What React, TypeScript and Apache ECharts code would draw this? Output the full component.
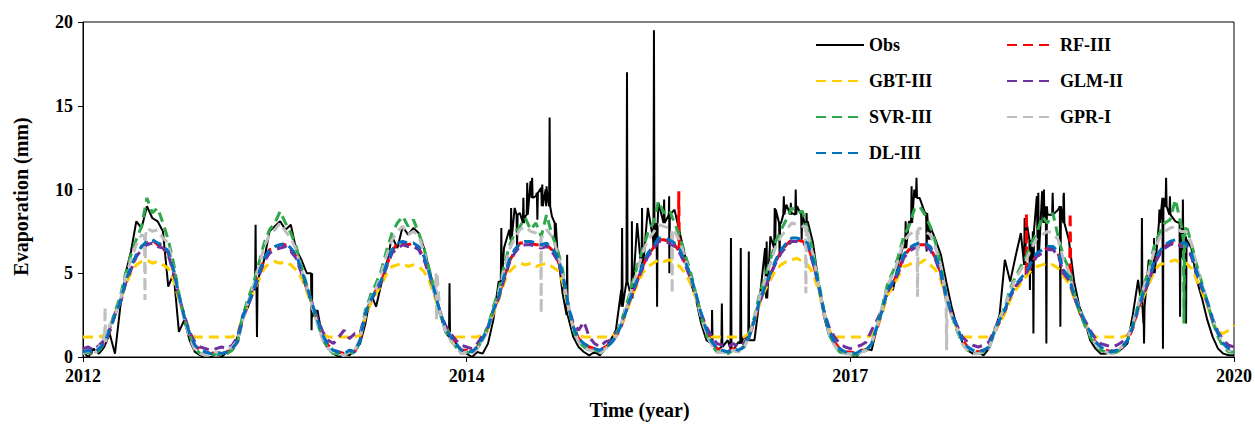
import React, { useEffect, useRef } from 'react';
import * as echarts from 'echarts';

// x axis: days counted from 2012-01-01, 24 samples per year (2012..2020)
const DAYS_TOTAL = 3288;
const SAMPLES = 216;
const xTickLabels = ['2012', '2014', '2017', '2020'];
const yTickValues = [0, 5, 10, 15, 20];

const seriesNames = ['Obs', 'RF-III', 'GBT-III', 'GLM-II', 'SVR-III', 'GPR-I', 'DL-III'];

const obs = [
  0.3,0.0,0.5,0.2,0.6,1.4,0.2,3.0,5.0,6.3,8.1,7.7,9.0,8.3,8.1,7.5,4.2,5.0,1.5,2.2,1.0,0.3,0.1,0.0,
  0.0,0.2,0.0,0.3,0.5,1.2,2.5,3.0,4.2,4.8,5.8,7.5,7.8,8.1,7.6,7.9,6.4,5.8,5.0,2.4,2.8,1.0,0.5,0.2,
  0.0,0.2,0.1,0.4,0.8,2.0,3.8,3.0,4.4,5.6,7.2,6.5,7.8,7.3,7.7,7.4,6.5,5.2,4.0,2.6,1.5,1.2,0.8,0.3,
  0.2,0.0,0.3,0.2,0.8,2.2,4.5,6.5,7.6,8.9,8.6,8.4,10.5,9.6,10.1,10.2,8.4,6.5,3.8,2.5,1.2,0.6,0.3,0.1,
  0.3,0.1,0.5,1.0,1.6,4.0,6.2,5.5,8.0,6.0,8.9,7.0,9.2,8.4,9.6,8.8,7.4,6.0,4.5,3.5,2.0,1.0,1.0,0.4,
  0.6,1.0,0.4,0.9,1.2,1.5,1.0,3.5,6.5,7.2,8.8,8.0,9.1,8.6,9.0,8.6,8.1,6.8,4.5,2.5,1.3,0.8,0.4,0.2,
  0.2,0.0,0.3,0.5,0.4,1.8,3.0,4.3,4.0,5.6,6.7,8.1,10.0,9.5,8.6,7.8,7.0,6.1,4.5,3.0,1.8,0.9,0.4,0.2,
  0.3,0.1,0.5,1.5,2.5,5.8,4.5,6.0,7.4,8.2,5.0,9.6,9.9,8.5,9.8,8.8,9.6,7.0,4.5,3.0,2.2,1.0,0.5,0.2,
  0.2,0.4,0.3,0.5,0.8,2.5,4.6,2.0,5.8,7.1,8.8,9.0,9.6,8.1,6.0,7.2,6.5,4.6,3.5,2.2,1.2,0.5,0.2,0.1,
  0.1,
];
// [day, peak, surrounding level]
const obsSpikes = [
  [493, 7.9, 4.0], [497, 1.2, 4.2], [653, 1.6, 5.0], [1047, 4.4, 1.2],
  [1195, 7.7, 4.5], [1223, 8.9, 7.0], [1240, 6.5, 8.5], [1258, 9.5, 8.0], [1269, 10.4, 8.5],
  [1283, 10.7, 9.5], [1298, 8.2, 9.8], [1312, 10.3, 9.0], [1323, 9.0, 10.0],
  [1333, 14.3, 9.0], [1349, 6.0, 8.0], [1383, 6.1, 2.5],
  [1540, 7.7, 3.0], [1554, 17.0, 4.5], [1568, 8.1, 3.5], [1597, 8.9, 5.0], [1631, 19.5, 6.5], [1640, 3.0, 8.0],
  [1660, 9.4, 8.0], [1675, 5.0, 8.5],
  [1797, 2.8, 0.8], [1825, 3.2, 0.6], [1851, 7.1, 0.5], [1879, 6.5, 0.8], [1902, 6.3, 1.0],
  [1953, 6.9, 3.5], [1976, 8.9, 6.5], [1990, 6.0, 8.0], [2002, 9.6, 8.5], [2022, 9.2, 8.5],
  [2036, 10.0, 8.5], [2053, 7.0, 8.5], [2067, 8.6, 7.5],
  [2350, 8.1, 6.5], [2367, 10.2, 8.0], [2381, 10.7, 9.5], [2410, 6.3, 8.6], [2418, 7.9, 7.0],
  [2690, 8.3, 5.5], [2705, 4.0, 7.0], [2715, 1.4, 7.5], [2729, 9.8, 6.0], [2745, 10.0, 8.0],
  [2752, 0.8, 9.0], [2770, 9.8, 8.5], [2792, 1.8, 9.0], [2802, 9.8, 8.0],
  [3025, 8.3, 3.0], [3031, 0.8, 3.0], [3060, 7.1, 5.0], [3075, 8.8, 8.0], [3085, 0.5, 9.5],
  [3094, 10.7, 9.0], [3105, 9.6, 8.5], [3134, 2.4, 8.0], [3142, 9.4, 6.0], [3151, 2.0, 7.0],
];

const rf = [
  0.3,0.3,0.2,0.4,0.8,1.5,2.5,3.3,4.4,5.3,6.0,6.6,6.8,7.0,6.7,6.6,6.2,5.1,3.6,2.4,1.3,0.7,0.4,0.3,
  0.2,0.3,0.2,0.3,0.5,0.9,2.3,3.1,4.0,4.9,5.8,6.4,6.5,6.7,6.7,6.4,6.0,5.1,4.1,3.2,2.1,1.3,0.7,0.4,
  0.3,0.2,0.4,0.3,1.0,2.5,3.3,4.0,4.5,5.5,6.3,6.8,6.8,6.7,6.8,6.5,5.9,4.9,3.8,2.7,1.7,1.2,0.8,0.4,
  0.4,0.3,0.6,1.0,1.7,2.7,3.6,4.7,5.7,6.3,6.8,6.8,6.8,6.7,6.7,6.7,6.4,5.9,4.9,3.1,1.8,1.1,0.8,0.6,
  0.5,0.4,0.6,0.8,1.2,1.8,2.8,3.7,4.5,5.4,6.1,6.5,7.0,7.0,6.9,6.7,6.3,5.6,4.8,3.7,2.5,1.6,0.9,0.5,
  0.4,0.3,0.5,0.4,0.6,1.2,2.1,3.3,4.1,4.9,5.7,6.3,6.7,7.0,7.0,6.9,6.7,5.7,4.3,2.7,1.6,0.9,0.5,0.3,
  0.3,0.2,0.4,0.4,0.8,1.7,2.7,3.9,4.4,5.1,6.0,6.4,6.6,6.7,6.7,6.5,5.9,5.0,3.5,2.5,1.7,1.0,0.6,0.4,
  0.3,0.4,0.6,1.4,2.1,2.7,3.6,4.2,4.6,5.0,5.6,6.1,6.3,6.5,6.5,6.2,5.1,4.7,3.6,2.7,2.0,1.4,0.9,0.6,
  0.4,0.3,0.4,0.6,1.0,1.7,2.8,3.7,4.5,5.6,6.2,6.6,6.8,6.9,6.7,6.7,6.1,5.0,4.1,3.2,2.1,1.4,0.8,0.5,
  0.4,
];
const rfSpikes = [[1702, 9.9, 6.4], [2695, 8.6, 4.8], [2820, 8.6, 5.0]];

const gbt = [
  1.2,1.2,1.2,1.2,1.3,1.8,2.6,3.4,4.3,5.0,5.5,5.7,5.8,5.6,5.7,5.5,5.3,4.6,3.4,2.4,1.5,1.2,1.2,1.2,
  1.2,1.2,1.2,1.2,1.2,1.4,2.4,3.2,3.9,4.6,5.3,5.6,5.7,5.6,5.7,5.5,5.2,4.7,3.9,3.0,2.1,1.4,1.2,1.2,
  1.2,1.2,1.2,1.2,1.3,2.4,3.2,3.8,4.3,5.0,5.4,5.5,5.6,5.4,5.5,5.4,5.1,4.5,3.6,2.6,1.8,1.3,1.2,1.2,
  1.2,1.2,1.2,1.3,1.7,2.6,3.4,4.4,5.1,5.4,5.6,5.5,5.6,5.4,5.5,5.6,5.4,5.2,4.5,3.0,1.8,1.3,1.2,1.2,
  1.2,1.2,1.2,1.2,1.4,1.9,2.7,3.6,4.3,5.0,5.4,5.6,5.8,5.7,5.8,5.6,5.4,5.0,4.4,3.5,2.5,1.6,1.2,1.2,
  1.2,1.2,1.2,1.2,1.2,1.4,2.2,3.2,4.0,4.6,5.2,5.5,5.7,5.8,5.9,5.7,5.5,5.0,4.0,2.7,1.6,1.2,1.2,1.2,
  1.2,1.2,1.2,1.2,1.3,1.8,2.7,3.7,4.2,4.8,5.4,5.5,5.7,5.6,5.8,5.5,5.2,4.6,3.4,2.5,1.7,1.2,1.2,1.2,
  1.2,1.2,1.2,1.5,2.0,2.6,3.4,4.0,4.4,4.8,5.2,5.4,5.5,5.6,5.5,5.3,4.8,4.4,3.5,2.7,2.0,1.5,1.2,1.2,
  1.2,1.2,1.2,1.2,1.3,1.8,2.8,3.6,4.3,5.1,5.5,5.6,5.7,5.8,5.6,5.6,5.3,4.6,3.9,3.1,2.1,1.5,1.4,1.6,
  1.9,
];

const glm = [
  0.5,0.6,0.4,0.7,1.0,1.7,2.6,3.2,4.4,5.2,6.0,6.4,6.7,6.8,6.6,6.5,6.1,5.0,3.6,2.5,1.5,0.9,0.6,0.5,
  0.4,0.5,0.6,0.5,0.7,1.2,2.5,3.1,3.9,4.8,5.7,6.2,6.4,6.5,6.6,6.3,5.9,5.0,4.1,3.2,2.3,1.5,1.0,0.8,
  1.2,1.6,1.1,1.4,1.4,2.7,3.4,3.9,4.5,5.4,6.2,6.5,6.7,6.6,6.6,6.4,5.8,4.9,3.8,2.7,1.9,1.4,1.0,0.7,
  0.6,0.5,0.8,1.3,1.8,2.8,3.5,4.6,5.6,6.2,6.6,6.7,6.7,6.6,6.5,6.6,6.3,5.8,4.8,3.2,2.0,1.6,2.1,1.2,
  0.8,0.6,0.9,1.0,1.4,2.0,2.9,3.7,4.5,5.3,6.0,6.4,6.9,6.9,6.8,6.6,6.2,5.5,4.7,3.7,2.6,1.8,1.2,0.8,
  0.7,0.6,0.8,0.6,0.8,1.3,2.3,3.3,4.1,4.9,5.6,6.2,6.6,6.9,6.9,6.8,6.6,5.6,4.3,2.8,1.8,1.2,0.8,0.6,
  0.5,0.6,0.7,0.9,1.6,2.2,2.9,3.9,4.4,5.0,5.9,6.3,6.5,6.6,6.6,6.4,5.8,4.9,3.5,2.6,1.9,1.2,0.9,0.7,
  0.6,0.7,0.9,1.6,2.3,2.8,3.6,4.2,4.6,5.0,5.5,6.0,6.2,6.4,6.4,6.1,5.0,4.6,3.6,2.8,2.2,1.6,1.1,0.8,
  0.7,0.6,0.7,0.9,1.2,1.9,2.9,3.7,4.5,5.5,6.1,6.5,6.7,6.8,6.6,6.6,6.0,5.0,4.1,3.3,2.3,1.5,1.0,0.7,
  0.6,
];

const svr = [
  0.2,0.3,0.1,0.4,0.8,1.7,2.7,3.6,5.0,6.1,7.0,7.8,9.5,8.6,8.9,8.0,7.0,5.6,3.8,2.3,1.3,0.5,0.2,0.1,
  0.1,0.2,0.1,0.2,0.4,0.9,2.5,3.5,4.4,5.6,6.8,7.6,8.0,8.7,8.0,7.4,6.6,5.4,4.3,3.1,2.0,1.1,0.5,0.2,
  0.2,0.1,0.3,0.2,1.0,2.8,3.7,4.4,5.2,6.4,7.4,8.0,8.4,7.8,8.2,7.4,6.5,5.2,3.9,2.6,1.6,1.0,0.6,0.2,
  0.3,0.2,0.5,1.1,1.8,3.0,4.0,5.4,6.6,7.4,7.8,8.3,7.6,8.0,7.2,8.5,7.3,6.5,5.2,3.2,1.6,0.9,0.6,0.4,
  0.4,0.3,0.5,0.8,1.3,2.1,3.1,4.3,5.4,6.4,7.4,8.0,9.3,8.6,8.8,8.0,7.2,6.1,5.1,3.8,2.4,1.3,0.7,0.3,
  0.3,0.2,0.4,0.3,0.6,1.3,2.4,3.8,4.8,5.8,6.9,7.6,8.2,8.9,8.6,8.7,7.6,6.3,4.6,2.8,1.4,0.7,0.3,0.2,
  0.2,0.1,0.3,0.4,0.8,1.9,3.0,4.4,5.1,6.0,7.2,7.8,8.8,9.0,8.5,7.8,6.8,5.5,3.7,2.5,1.6,0.8,0.4,0.3,
  0.2,0.3,0.5,1.5,2.3,3.0,4.1,4.8,5.4,6.0,6.8,7.4,8.4,8.0,8.6,7.2,6.0,5.3,3.8,2.7,1.9,1.2,0.7,0.4,
  0.3,0.2,0.3,0.5,1.0,1.9,3.1,4.2,5.2,6.6,7.4,8.0,8.2,9.4,8.0,7.9,6.8,5.5,4.4,3.3,2.1,1.2,0.6,0.3,
  0.3,
];
const svrSpikes = [[3145, 2.0, 7.0]];

const gpr = [
  0.2,0.4,0.1,0.6,1.3,1.9,2.4,3.4,4.8,5.8,6.7,7.3,7.7,7.5,7.6,7.1,6.8,5.2,3.6,2.2,1.2,0.4,0.2,0.1,
  0.1,0.3,0.2,0.4,0.6,1.0,2.2,3.3,4.3,5.4,6.6,7.3,7.6,8.0,7.5,7.1,6.4,5.2,4.2,3.0,2.0,1.0,0.5,0.3,
  0.2,0.1,0.3,0.4,1.1,2.6,3.5,4.1,5.0,6.1,7.0,7.5,7.8,7.3,7.5,7.2,6.3,4.9,3.7,2.6,1.6,1.0,0.6,0.2,
  0.3,0.2,0.5,1.0,1.6,2.8,3.8,5.2,6.4,7.1,7.6,7.8,7.5,7.4,7.1,7.6,7.2,6.3,5.0,3.1,1.7,0.9,0.6,0.4,
  0.4,0.2,0.5,0.7,1.2,2.0,3.0,4.1,5.1,6.2,7.0,7.4,7.9,7.8,7.7,7.5,6.9,5.9,4.8,3.7,2.4,1.4,0.7,0.3,
  0.3,0.2,0.4,0.3,0.5,1.2,2.3,3.6,4.6,5.6,6.6,7.2,7.6,8.0,7.9,7.8,7.3,6.1,4.4,2.7,1.4,0.7,0.3,0.2,
  0.2,0.1,0.3,0.4,0.8,1.9,3.0,4.3,4.9,5.8,6.9,7.3,7.5,7.7,7.5,7.3,6.5,5.4,3.6,2.5,1.7,0.8,0.4,0.2,
  0.2,0.3,0.5,1.4,2.3,3.0,3.9,4.7,5.2,5.8,6.5,7.1,7.3,7.5,7.4,7.0,5.8,5.1,3.8,2.9,2.1,1.4,0.8,0.4,
  0.3,0.2,0.4,0.6,1.1,2.0,3.1,4.1,5.1,6.3,7.1,7.5,7.7,7.8,7.5,7.5,6.8,5.4,4.3,3.4,2.3,1.4,0.8,0.4,
  0.3,
];
const gprSpikes = [
  [63, 3.0, 0.9], [177, 3.4, 7.2], [1010, 2.2, 5.0], [1309, 2.6, 7.1], [1683, 3.8, 7.6],
  [2065, 3.8, 7.8], [2384, 3.6, 7.6], [2467, 0.4, 3.6],
];

const dl = [
  0.3,0.4,0.2,0.5,0.8,1.6,2.5,3.3,4.5,5.4,6.1,6.6,6.9,7.0,6.8,6.7,6.3,5.2,3.7,2.4,1.4,0.7,0.4,0.3,
  0.2,0.3,0.2,0.3,0.5,0.9,2.4,3.2,4.0,5.0,5.9,6.4,6.6,6.7,6.8,6.5,6.1,5.2,4.2,3.2,2.2,1.3,0.7,0.4,
  0.3,0.2,0.4,0.3,1.0,2.6,3.4,4.0,4.6,5.6,6.4,6.8,6.9,6.8,6.8,6.6,6.0,5.0,3.9,2.7,1.8,1.2,0.8,0.4,
  0.4,0.3,0.6,1.1,1.7,2.8,3.6,4.8,5.8,6.4,6.8,6.9,6.9,6.8,6.7,6.8,6.5,6.0,5.0,3.2,1.8,1.1,0.8,0.6,
  0.5,0.4,0.6,0.8,1.2,1.9,2.8,3.8,4.6,5.5,6.2,6.6,7.1,7.1,7.0,6.8,6.4,5.7,4.9,3.8,2.6,1.6,0.9,0.5,
  0.4,0.3,0.5,0.4,0.6,1.2,2.2,3.4,4.2,5.0,5.8,6.4,6.8,7.1,7.1,7.0,6.8,5.8,4.4,2.8,1.6,0.9,0.5,0.3,
  0.3,0.2,0.4,0.4,0.8,1.8,2.8,4.0,4.5,5.2,6.1,6.5,6.7,6.8,6.8,6.6,6.0,5.1,3.6,2.6,1.8,1.0,0.6,0.4,
  0.3,0.4,0.6,1.5,2.2,2.8,3.7,4.3,4.7,5.1,5.7,6.2,6.4,6.6,6.6,6.3,5.2,4.8,3.7,2.8,2.1,1.5,0.9,0.6,
  0.4,0.3,0.4,0.6,1.0,1.8,2.9,3.8,4.6,5.7,6.3,6.7,6.9,7.0,6.8,6.8,6.2,5.1,4.2,3.3,2.2,1.4,0.8,0.5,
  0.4,
];

const colors = ['#000000', '#FF0000', '#FFD000', '#7030A0', '#2EA84A', '#BFBFBF', '#0070C0'];

function buildPoints(base: number[], spikes: number[][] = []) {
  const step = DAYS_TOTAL / SAMPLES;
  const pts: number[][] = base.map((v, i) => [i * step, v]);
  spikes.forEach(([d, p, b]) => {
    pts.push([d - 1.5, b], [d, p], [d + 1.5, b]);
  });
  pts.sort((a, c) => a[0] - c[0]);
  return pts;
}

const FONT = "'Liberation Serif', 'Times New Roman', serif";

export default function App() {
  const ref = useRef<HTMLDivElement>(null);
  useEffect(() => {
    if (!ref.current) return;
    const chart = echarts.init(ref.current, null, { renderer: 'svg' });
    const data = [
      buildPoints(obs, obsSpikes),
      buildPoints(rf, rfSpikes),
      buildPoints(gbt),
      buildPoints(glm),
      buildPoints(svr, svrSpikes),
      buildPoints(gpr, gprSpikes),
      buildPoints(dl),
    ];
    const textStyle = { fontFamily: FONT, fontWeight: 'bold' as const, fontSize: 18, color: '#000' };
    const legendBase = {
      orient: 'vertical' as const, top: 31, itemWidth: 48, itemHeight: 14, itemGap: 18,
      textStyle, itemStyle: { opacity: 0 },
    };
    chart.setOption({
      animation: false,
      backgroundColor: '#fff',
      grid: { left: 83, right: 19, top: 22, bottom: 60, show: true, borderColor: '#000', borderWidth: 1 },
      legend: [
        { ...legendBase, data: ['Obs', 'GBT-III', 'SVR-III', 'DL-III'], left: 810 },
        { ...legendBase, data: ['RF-III', 'GLM-II', 'GPR-I'], left: 1001 },
      ],
      xAxis: {
        type: 'value', min: 0, max: DAYS_TOTAL, interval: DAYS_TOTAL / 3,
        axisLine: { show: true, lineStyle: { color: '#000', width: 1 } },
        axisTick: { show: true, length: 5, lineStyle: { color: '#000' } },
        splitLine: { show: false },
        axisLabel: {
          ...textStyle, margin: 10,
          formatter: (v: number) => xTickLabels[Math.round(v / (DAYS_TOTAL / 3))] ?? '',
        },
        name: 'Time (year)', nameLocation: 'middle', nameGap: 43,
        nameTextStyle: { ...textStyle, fontSize: 20, padding: [0, 38, 0, 0] },
      },
      yAxis: {
        type: 'value', min: yTickValues[0], max: yTickValues[yTickValues.length - 1], interval: 5,
        axisLine: { show: true, lineStyle: { color: '#000', width: 1 } },
        axisTick: { show: true, length: 5, lineStyle: { color: '#000' } },
        splitLine: { show: false },
        axisLabel: { ...textStyle, margin: 10 },
        name: 'Evaporation (mm)', nameLocation: 'middle', nameGap: 52, nameRotate: 90,
        nameTextStyle: { ...textStyle, fontSize: 20, padding: [0, 14, 0, 0] },
      },
      series: seriesNames.map((name, i) => ({
        name,
        type: 'line',
        data: data[i],
        showSymbol: false,
        symbol: 'none',
        color: colors[i],
        lineStyle: i === 0
          ? { color: colors[i], width: 2, type: 'solid' }
          : { color: colors[i], width: 3, type: [10, 6] },
        z: 2 + i,
        silent: true,
      })),
    });
    return () => chart.dispose();
  }, []);
  return <div ref={ref} style={{ position: 'fixed', left: 0, top: 0, width: 1255, height: 425 }} />;
}
